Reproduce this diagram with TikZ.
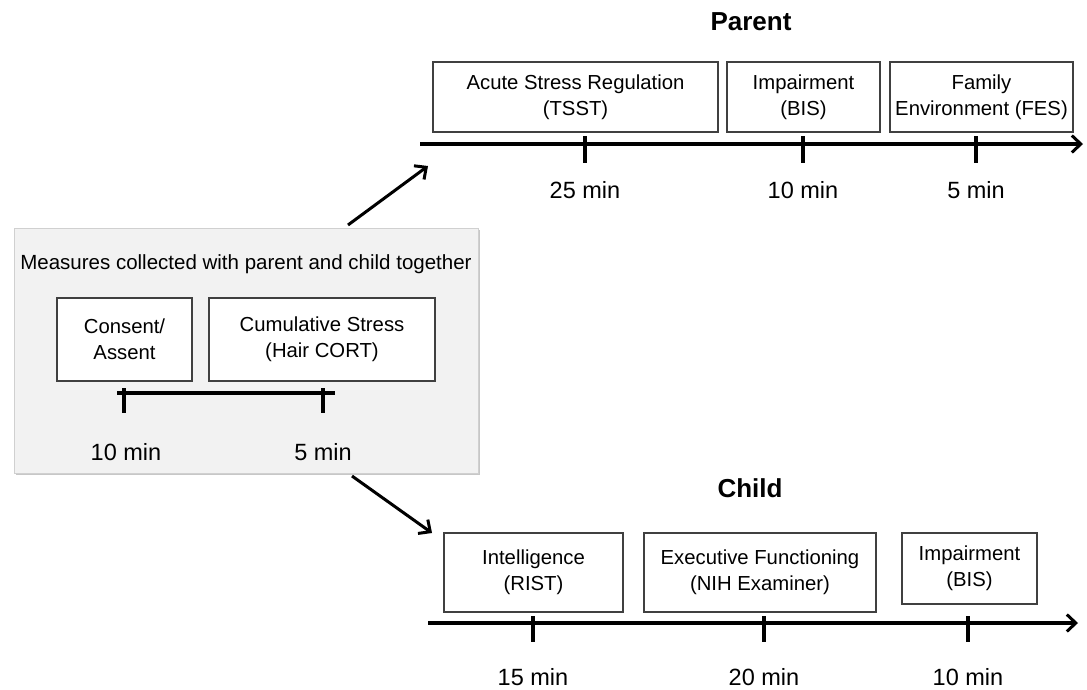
\documentclass[tikz,border=0pt]{standalone}
\usepackage{fontspec}
\setmainfont{Liberation Sans}
\usetikzlibrary{arrows.meta}
\definecolor{greyfill}{HTML}{F2F2F2}
\definecolor{greyline}{HTML}{D0D0D0}
\definecolor{boxline}{HTML}{404040}
\begin{document}
\begin{tikzpicture}[x=1pt,y=-1pt,
  box/.style={draw=boxline,line width=1.2pt,fill=white,align=center,inner sep=0pt,
    font=\fontsize{20.3}{26}\selectfont},
  lbl/.style={font=\fontsize{20.5}{24}\selectfont,inner sep=0pt},
  minlbl/.style={font=\fontsize{23.5}{26}\selectfont,inner sep=0pt},
  ttl/.style={font=\fontsize{26}{30}\selectfont\bfseries,inner sep=0pt},
  tline/.style={line width=3.2pt,-{Straight Barb[length=9pt,width=17pt,line width=3pt]}},
  plainline/.style={line width=3.2pt},
  tickmark/.style={line width=3.2pt},
  conn/.style={line width=3pt,-{Straight Barb[length=9pt,width=17pt,line width=3pt]}}
]
\useasboundingbox (0,0) rectangle (1087,689);

% shared block
\node[fill=black!22,minimum width=464pt,minimum height=245pt,inner sep=0pt] (shadow) at (248,352.5) {};
\node[fill=greyfill,draw=greyline,line width=0.8pt,minimum width=464pt,minimum height=245pt,inner sep=0pt] (shared) at (246,350.5) {};
\node[lbl] (sharedtitle) at (246,264) {Measures collected with parent and child together};
\node[box,minimum width=135pt,minimum height=83pt] (consent) at (124.5,339.5) {Consent/\\Assent};
\node[box,minimum width=226pt,minimum height=83pt] (cumul) at (322,339.5) {Cumulative Stress\\(Hair CORT)};
\coordinate (s0) at (117,393);
\coordinate (s1) at (335,393);
\draw[plainline] (s0) -- (s1);
\coordinate (st1) at (124,393);
\coordinate (st2) at (323,393);
\foreach \t in {st1,st2} \draw[tickmark] ([yshift=5pt]\t) -- ([yshift=-20pt]\t);
\node[minlbl] (sl1) at (126,452) {10 min};
\node[minlbl] (sl2) at (323,452) {5 min};

% parent
\node[ttl] (parent) at (751,22) {Parent};
\node[box,minimum width=285pt,minimum height=70pt] (acute) at (575.5,97) {Acute Stress Regulation\\(TSST)};
\node[box,minimum width=153pt,minimum height=70pt] (pimp) at (803.5,97) {Impairment\\(BIS)};
\node[box,minimum width=183pt,minimum height=70pt] (fes) at (981.5,97) {Family\\Environment (FES)};
\coordinate (p0) at (420,144);
\coordinate (p1) at (1083,144);
\draw[tline] (p0) -- (p1);
\coordinate (pt1) at (585,144);
\coordinate (pt2) at (803,144);
\coordinate (pt3) at (976,144);
\foreach \t in {pt1,pt2,pt3} \draw[tickmark] ([yshift=8pt]\t) -- ([yshift=-19pt]\t);
\node[minlbl] (pl1) at (585,190) {25 min};
\node[minlbl] (pl2) at (803,190) {10 min};
\node[minlbl] (pl3) at (976,190) {5 min};

% child
\node[ttl] (child) at (750,488) {Child};
\node[box,minimum width=179pt,minimum height=79pt] (intel) at (533.5,572.5) {Intelligence\\(RIST)};
\node[box,minimum width=232pt,minimum height=79pt] (exec) at (760,572.5) {Executive Functioning\\(NIH Examiner)};
\node[box,minimum width=135pt,minimum height=71pt] (cimp) at (969.5,568.5) {Impairment\\(BIS)};
\coordinate (c0) at (428,623);
\coordinate (c1) at (1078,623);
\draw[tline] (c0) -- (c1);
\coordinate (ct1) at (533,623);
\coordinate (ct2) at (764,623);
\coordinate (ct3) at (968,623);
\foreach \t in {ct1,ct2,ct3} \draw[tickmark] ([yshift=7pt]\t) -- ([yshift=-19pt]\t);
\node[minlbl] (cl1) at (533,677) {15 min};
\node[minlbl] (cl2) at (764,677) {20 min};
\node[minlbl] (cl3) at (968,677) {10 min};

% connectors
\coordinate (a1s) at (348,225);
\coordinate (a1e) at (428,166);
\coordinate (a2s) at (352,476);
\coordinate (a2e) at (432,533);
\draw[conn] (a1s) -- (a1e);
\draw[conn] (a2s) -- (a2e);
\end{tikzpicture}
\end{document}
